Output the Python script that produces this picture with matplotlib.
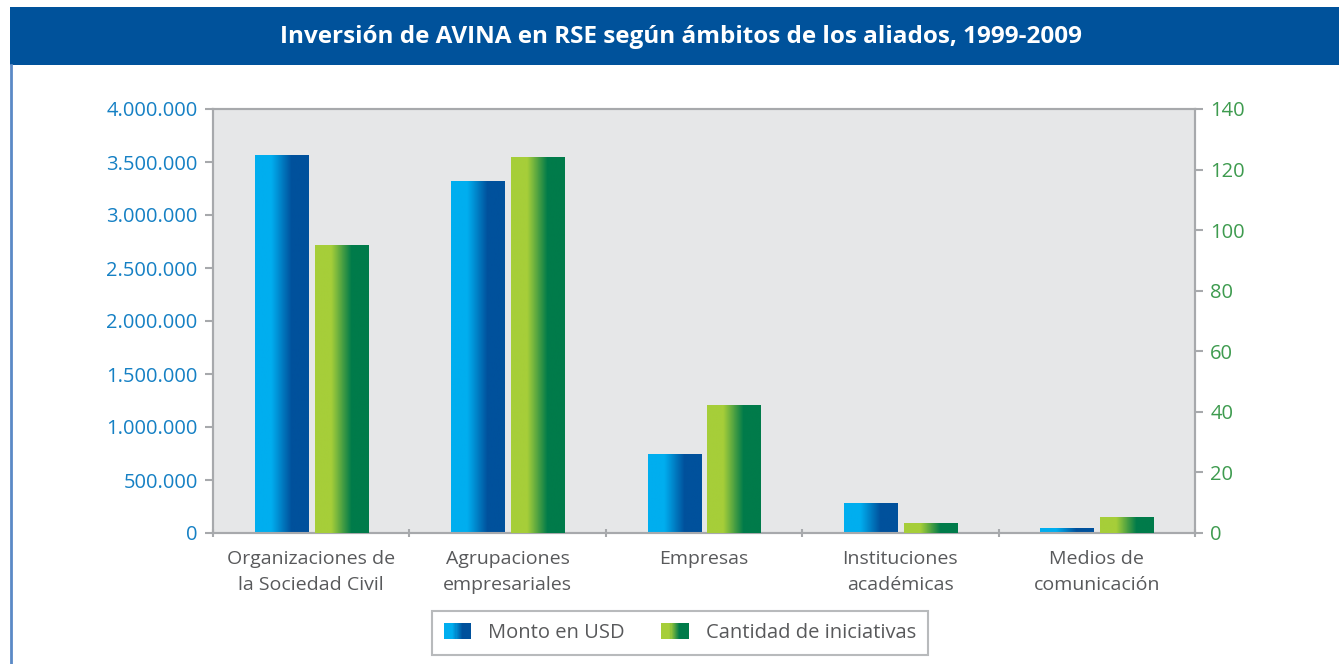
import numpy as np
import matplotlib
matplotlib.use("Agg")
import matplotlib.pyplot as plt
from matplotlib.patches import Rectangle
from matplotlib.legend_handler import HandlerBase
from matplotlib.colors import LinearSegmentedColormap
from matplotlib.ticker import FuncFormatter

# ---- data ----
categories = ["Organizaciones de\nla Sociedad Civil", "Agrupaciones\nempresariales",
              "Empresas", "Instituciones\nacadémicas", "Medios de\ncomunicación"]
monto_usd = [3560000, 3320000, 745000, 275000, 47000]
cantidad = [95, 124, 42, 3, 5]
left_ticks = [0, 500000, 1000000, 1500000, 2000000, 2500000, 3000000, 3500000, 4000000]
right_ticks = [0, 20, 40, 60, 80, 100, 120, 140]
title = "Inversión de AVINA en RSE según ámbitos de los aliados, 1999-2009"
series_names = ["Monto en USD", "Cantidad de iniciativas"]

FONT = "Open Sans"
plt.rcParams['font.family'] = [FONT, 'DejaVu Sans']

blue_light, blue_dark = "#00AEEF", "#00519C"
green_light, green_dark = "#A6CE39", "#007B4A"
cmap_blue = LinearSegmentedColormap.from_list("b", [(0, blue_light), (0.3, blue_light), (0.68, blue_dark), (1, blue_dark)])
cmap_green = LinearSegmentedColormap.from_list("g", [(0, green_light), (0.3, green_light), (0.68, green_dark), (1, green_dark)])
grad = np.linspace(0, 1, 128).reshape(1, -1)

fig = plt.figure(figsize=(13.39, 6.64), dpi=100)

# title band and frame
fig.patches.append(Rectangle((10/1339, 1-65/664), 1-10/1339, 58/664, transform=fig.transFigure,
                             facecolor="#00529B", edgecolor="none", zorder=0))
fig.lines.append(plt.Line2D([11/1339, 11/1339], [0, 1-65/664], transform=fig.transFigure,
                            color="#5B8AC6", lw=2))
fig.text(681/1339, 1-37/664, title, color="white", fontsize=17.5, fontweight="bold",
         ha="center", va="center", family=FONT)

ax = fig.add_axes([213/1339, 1-533/664, (1195-213)/1339, (533-109)/664])
ax2 = ax.twinx()
ax.set_facecolor("#E6E7E8")

x = np.arange(len(categories))
w = 0.27
off = 0.152
for i in range(len(categories)):
    x0 = x[i] - off - w/2
    ax.imshow(grad, cmap=cmap_blue, extent=(x0, x0 + w, 0, monto_usd[i]), aspect="auto",
              interpolation="bilinear", zorder=3)
    x1 = x[i] + off - w/2
    ax2.imshow(grad, cmap=cmap_green, extent=(x1, x1 + w, 0, cantidad[i]), aspect="auto",
               interpolation="bilinear", zorder=3)

ax.set_xlim(-0.5, len(categories) - 0.5)
ax2.set_xlim(-0.5, len(categories) - 0.5)
ax.set_ylim(0, 4000000)
ax2.set_ylim(0, 140)

spine_c = "#A7A9AC"
for a in (ax, ax2):
    for s in a.spines.values():
        s.set_color(spine_c)
        s.set_linewidth(1.5)

ax.set_yticks(left_ticks)
ax.yaxis.set_major_formatter(FuncFormatter(lambda v, p: f"{int(v):,}".replace(",", ".")))
ax.tick_params(axis="y", colors=spine_c, labelcolor="#1580C4", labelsize=14.5, length=6, width=1.5, pad=5)
ax2.set_yticks(right_ticks)
ax2.tick_params(axis="y", colors=spine_c, labelcolor="#3E9B4F", labelsize=14.5, length=6, width=1.5, pad=5)

ax.set_xticks(np.arange(-0.5, len(categories), 1.0))
ax.set_xticklabels([])
ax.set_xticks(x, minor=True)
ax.set_xticklabels(categories, minor=True, fontsize=14, color="#58595B", linespacing=1.6)
ax.tick_params(axis="x", which="major", colors=spine_c, length=6, width=1.5, direction="inout")
ax.tick_params(axis="x", which="minor", length=0, pad=12)
ax2.tick_params(axis="x", which="both", length=0)
for lab in ax.get_xticklabels(minor=True):
    lab.set_va("top")

# legend with gradient patches
class GradHandler(HandlerBase):
    def __init__(self, cmap):
        super().__init__()
        self.cmap = cmap
    def create_artists(self, legend, orig_handle, xdescent, ydescent, width, height, fontsize, trans):
        n = 24
        arts = []
        for k in range(n):
            r = Rectangle((-xdescent + width*k/n, -ydescent), width/n*1.05, height,
                          facecolor=self.cmap((k + 0.5)/n), edgecolor="none", transform=trans)
            arts.append(r)
        return arts

h1 = Rectangle((0, 0), 1, 1)
h2 = Rectangle((0, 0), 1, 1)
leg = fig.legend([h1, h2], series_names, handler_map={h1: GradHandler(cmap_blue), h2: GradHandler(cmap_green)},
                 loc="center", bbox_to_anchor=(680/1339, 1-633/664), ncol=2, fontsize=14.5,
                 frameon=True, fancybox=False, edgecolor="#A7A9AC", handlelength=1.35, handleheight=0.8,
                 columnspacing=1.8, handletextpad=0.85, borderpad=0.6, borderaxespad=0)
leg.get_frame().set_linewidth(1.5)
for t in leg.get_texts():
    t.set_color("#58595B")

fig.savefig("out.png", dpi=100)
